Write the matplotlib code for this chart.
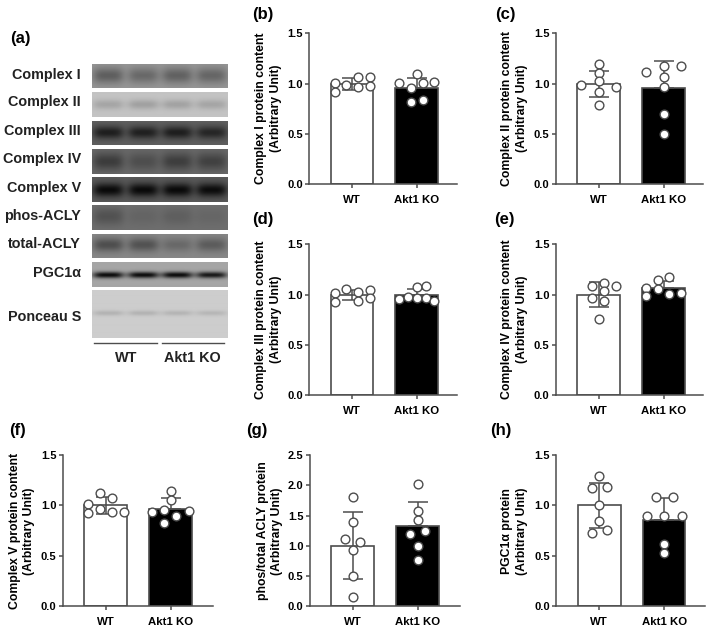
import numpy as np
import matplotlib
matplotlib.use('Agg')
import matplotlib.pyplot as plt

plt.rcParams['font.family'] = ['Liberation Sans', 'DejaVu Sans']
plt.rcParams['font.weight'] = 'bold'

W, H = 709, 627
LINE = '#4d4d4d'

groups = ['WT', 'Akt1 KO']

# bar heights and SD per panel
b_mean, b_sd = [1.0, 0.96], [0.06, 0.10]
c_mean, c_sd = [1.0, 0.96], [0.13, 0.26]
d_mean, d_sd = [1.0, 0.995], [0.05, 0.06]
e_mean, e_sd = [1.0, 1.065], [0.125, 0.07]
f_mean, f_sd = [1.0, 0.965], [0.08, 0.105]
g_mean, g_sd = [1.0, 1.32], [0.55, 0.41]
h_mean, h_sd = [1.0, 0.86], [0.225, 0.21]

# individual animals: value and sideways offset from the bar centre
b_wt = [1.01, 0.917, 0.99, 1.063, 0.97, 1.063, 0.973]
b_wt_x = [-0.27, -0.27, -0.09, 0.09, 0.09, 0.28, 0.28]
b_ko = [1.003, 0.96, 0.815, 1.096, 1.003, 0.84, 1.013]
b_ko_x = [-0.27, -0.09, -0.09, 0, 0.09, 0.09, 0.27]

c_wt = [0.99, 1.195, 1.106, 1.026, 0.917, 0.79, 0.967]
c_wt_x = [-0.28, 0, 0, 0, 0, 0, 0.27]
c_ko = [1.113, 1.179, 1.066, 0.97, 0.70, 0.50, 1.179]
c_ko_x = [-0.27, 0, 0, 0, 0, 0, 0.27]

d_wt = [1.017, 0.93, 1.06, 1.03, 0.937, 1.05, 0.964]
d_wt_x = [-0.27, -0.27, -0.09, 0.09, 0.09, 0.28, 0.28]
d_ko = [0.957, 0.98, 1.073, 0.97, 1.09, 0.97, 0.934]
d_ko_x = [-0.27, -0.14, 0, 0, 0.14, 0.14, 0.27]

e_wt = [1.086, 0.967, 1.12, 1.04, 0.937, 1.086, 0.758]
e_wt_x = [-0.10, -0.10, 0.08, 0.08, 0.08, 0.27, 0]
e_ko = [1.063, 0.983, 1.142, 1.053, 1.172, 1.01, 1.013]
e_ko_x = [-0.27, -0.27, -0.09, -0.09, 0.09, 0.09, 0.27]

f_wt = [1.014, 0.925, 1.127, 0.965, 1.077, 0.93, 0.935]
f_wt_x = [-0.27, -0.27, -0.09, -0.09, 0.09, 0.09, 0.28]
f_ko = [0.935, 0.95, 0.83, 1.14, 1.057, 0.895, 0.94]
f_ko_x = [-0.28, -0.10, -0.10, 0, 0, 0.09, 0.28]

g_wt = [1.81, 1.39, 1.12, 1.06, 0.936, 0.496, 0.15]
g_wt_x = [0, 0, -0.12, 0.12, 0, 0, 0]
g_ko = [2.02, 1.575, 1.43, 1.25, 1.19, 0.99, 0.76]
g_ko_x = [0, 0, 0, 0.12, -0.12, 0, 0]

h_wt = [1.29, 1.176, 1.183, 1.004, 0.842, 0.723, 0.753]
h_wt_x = [0, -0.12, 0.12, 0, 0, -0.12, 0.12]
h_ko = [1.083, 1.083, 0.895, 0.90, 0.895, 0.614, 0.525]
h_ko_x = [-0.13, 0.13, -0.27, 0, 0.27, 0, 0]

# blot labels with gray levels: background, then band level per lane
blot_labels = ['Complex I', 'Complex II', 'Complex III', 'Complex IV', 'Complex V',
               'phos-ACLY', 'total-ACLY', 'PGC1\u03b1', 'Ponceau S']
blot_bg = [150, 195, 95, 105, 90, 110, 135, 165, 205]
blot_bands = [[95, 105, 98, 102],
              [165, 160, 162, 165],
              [30, 32, 30, 38],
              [60, 78, 62, 65],
              [10, 10, 10, 12],
              [82, 100, 95, 102],
              [78, 82, 105, 92],
              [10, 10, 10, 22],
              [178, 178, 180, 182]]
blot_sigma = [8, 5, 6.5, 9, 7, 9, 7, 3.2, 2.6]
blot_top = [64, 92.3, 120.7, 149, 177.3, 205.3, 233.7, 262, 290.3]
blot_bot = [88.3, 117, 145.3, 173.7, 202, 230, 258.3, 286.7, 338]
blot_label_y = [74.7, 102.3, 131, 159.3, 187.7, 216, 244, 273.3, 316.7]
blot_band_y = [0.5, 0.5, 0.5, 0.5, 0.52, 0.45, 0.47, 0.52, 0.48]
lane_x = [107.7, 142.7, 176.7, 211]


def px_axes(fig, left, top, right, bottom):
    return fig.add_axes([left / W, 1 - bottom / H, (right - left) / W, (bottom - top) / H])


def fig_text(fig, x, y, s, **kw):
    fig.text(x / W, 1 - y / H, s, ha=kw.pop('ha', 'center'), va='center', **kw)


def draw_blot(fig, i):
    top, bot = blot_top[i], blot_bot[i]
    ax = px_axes(fig, 91.7, top, 227, bot)
    xs = np.linspace(91.7, 227, 136)
    ys = np.linspace(top, bot, max(int(bot - top), 2))
    xx, yy = np.meshgrid(xs, ys)
    band_y = top + blot_band_y[i] * (bot - top)
    img = np.full(xx.shape, float(blot_bg[i]))
    weight = np.zeros(xx.shape)
    level = np.zeros(xx.shape)
    for cx, lv in zip(lane_x, blot_bands[i]):
        w = np.exp(-((np.abs(xx - cx) / 15.5) ** 4)) * np.exp(-((yy - band_y) / blot_sigma[i]) ** 2)
        level += w * lv
        weight += w
    img = img * (1 - weight) + level
    ax.imshow(img, cmap='gray', vmin=0, vmax=255, aspect='auto', interpolation='bilinear')
    ax.axis('off')


def draw_panel(fig, letter, letter_xy, box, ymax, ticks, mean, sd, wt, wt_x, ko, ko_x,
               ylabel, ylabel_xy):
    left, top, right, bottom = box
    ax = px_axes(fig, left, top, right, bottom)
    step = 64.8
    first = left + 43
    ax.set_xlim((left - first) / step, (right - first) / step)
    ax.set_ylim(0, ymax)
    ax.bar([0, 1], mean, width=0.66, color=['white', 'black'], edgecolor=LINE, linewidth=1.2, zorder=2)
    # the lower whisker of the black bar does not show in the original
    ax.errorbar([0, 1], mean, yerr=[[sd[0], 0], sd], fmt='none', ecolor=LINE, elinewidth=1.1,
                capsize=7.5, capthick=1.1, zorder=3)
    for pos, vals, off in ((0, wt, wt_x), (1, ko, ko_x)):
        ax.plot(pos + np.array(off), vals, 'o', ms=6.3, mfc='white', mec=LINE, mew=1.0,
                zorder=4, clip_on=False)
    for side in ('top', 'right'):
        ax.spines[side].set_visible(False)
    for side in ('left', 'bottom'):
        ax.spines[side].set_color(LINE)
        ax.spines[side].set_linewidth(1.1)
    ax.set_xticks([0, 1], groups)
    ax.set_yticks(ticks, [f'{t:.1f}' for t in ticks])
    ax.tick_params(axis='x', length=3, width=1.1, color=LINE, labelsize=8.2, pad=4.5)
    ax.tick_params(axis='y', length=3, width=1.1, color=LINE, labelsize=8, pad=1.5)
    fig_text(fig, letter_xy[0], letter_xy[1], letter, fontsize=12)
    fig_text(fig, ylabel_xy[0], ylabel_xy[1], ylabel, fontsize=8.8, rotation=90,
             linespacing=1.3, multialignment='center')


fig = plt.figure(figsize=(W / 100, H / 100), dpi=100)

# panel (a), the blots
fig_text(fig, 20, 39, '(a)', fontsize=12)
for i, label in enumerate(blot_labels):
    draw_blot(fig, i)
    fig_text(fig, 81, blot_label_y[i], label, fontsize=10.4, ha='right', color='#222222')
line_ax = fig.add_axes([0, 0, 1, 1], facecolor='none')
line_ax.set_xlim(0, W)
line_ax.set_ylim(H, 0)
line_ax.axis('off')
line_ax.plot([94.3, 156.7], [343, 343], color=LINE, lw=1.0)
line_ax.plot([161.7, 224], [343, 343], color=LINE, lw=1.0)
fig_text(fig, 125.7, 358.3, 'WT', fontsize=10.4, color='#222222')
fig_text(fig, 192.7, 358.3, 'Akt1 KO', fontsize=10.4, color='#222222')

tick15 = [0.0, 0.5, 1.0, 1.5]
tick25 = [0.0, 0.5, 1.0, 1.5, 2.0, 2.5]
unit = '\n(Arbitrary Unit)'

draw_panel(fig, '(b)', (262.7, 15), (309, 33.3, 457, 184.3), 1.5, tick15, b_mean, b_sd,
           b_wt, b_wt_x, b_ko, b_ko_x, 'Complex I protein content' + unit, (268.7, 108))
draw_panel(fig, '(c)', (505, 15), (555.7, 33.3, 703, 184.3), 1.5, tick15, c_mean, c_sd,
           c_wt, c_wt_x, c_ko, c_ko_x, 'Complex II protein content' + unit, (514.7, 108))
draw_panel(fig, '(d)', (262.7, 219.3), (309, 244.3, 457, 395.3), 1.5, tick15, d_mean, d_sd,
           d_wt, d_wt_x, d_ko, d_ko_x, 'Complex III protein content' + unit, (268.7, 319.5))
draw_panel(fig, '(e)', (504, 219.3), (555.7, 244.3, 703, 395.3), 1.5, tick15, e_mean, e_sd,
           e_wt, e_wt_x, e_ko, e_ko_x, 'Complex IV protein content' + unit, (514.7, 319.5))
draw_panel(fig, '(f)', (18, 430), (62.7, 455, 213, 606.3), 1.5, tick15, f_mean, f_sd,
           f_wt, f_wt_x, f_ko, f_ko_x, 'Complex V protein content' + unit, (22, 530.8))
draw_panel(fig, '(g)', (257, 430), (309.7, 455, 460, 606.3), 2.5, tick25, g_mean, g_sd,
           g_wt, g_wt_x, g_ko, g_ko_x, 'phos/total ACLY protein' + unit, (270, 531))
draw_panel(fig, '(h)', (501, 430), (556.3, 455, 705, 606.3), 1.5, tick15, h_mean, h_sd,
           h_wt, h_wt_x, h_ko, h_ko_x, 'PGC1\u03b1 protein' + unit, (514.7, 531))

fig.savefig('out.png', dpi=100)
